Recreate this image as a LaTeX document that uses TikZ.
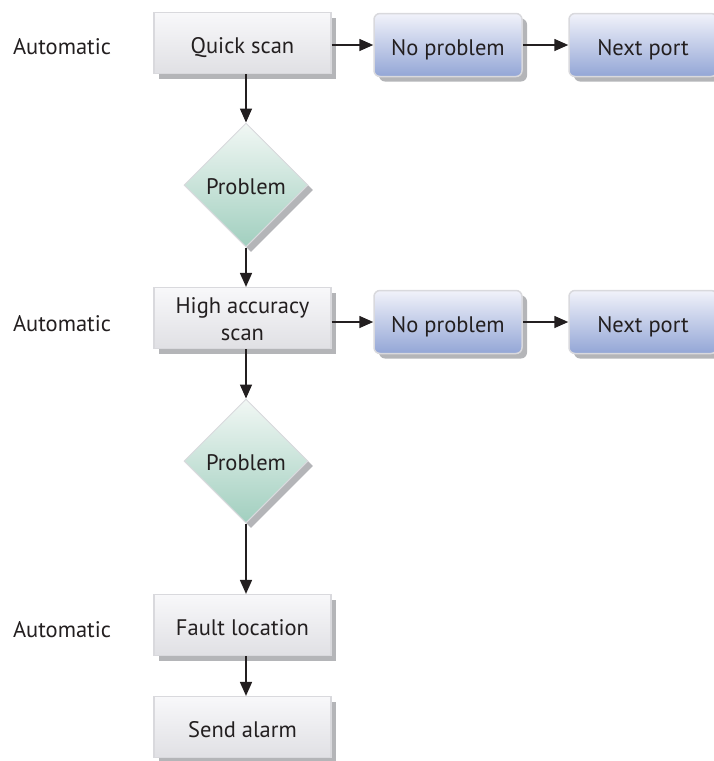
\documentclass[tikz,border=0pt]{standalone}
\usepackage{fontspec}
\setmainfont{PT Sans}
\usetikzlibrary{shapes.geometric,arrows.meta,shadows}
\definecolor{boxtop}{HTML}{F8F8FA}
\definecolor{boxbot}{HTML}{E0E0E4}
\definecolor{boxborder}{HTML}{D9D9DD}
\definecolor{bluetop}{HTML}{F1F2FA}
\definecolor{bluebot}{HTML}{93A6D6}
\definecolor{greentop}{HTML}{F1F7F4}
\definecolor{greenbot}{HTML}{A1CFBF}
\definecolor{shadowgray}{HTML}{B4B5B8}
\definecolor{txt}{HTML}{231F20}
\tikzset{
  myshadow/.style={drop shadow={shadow xshift=5pt, shadow yshift=-5pt, fill=shadowgray, opacity=1}},
  boxtext/.style={text=txt, font=\fontsize{22.5}{27}\selectfont, text height=21pt, text depth=1pt, inner sep=0pt},
  graybox/.style={rectangle, minimum width=177pt, minimum height=61pt, top color=boxtop, bottom color=boxbot, draw=boxborder, line width=1.2pt, myshadow, boxtext, align=center},
  twoline/.style={text height=45pt, text depth=1pt},
  bluebox/.style={rectangle, rounded corners=6pt, minimum width=148pt, minimum height=63pt, top color=bluetop, bottom color=bluebot, draw=boxborder, line width=1.5pt, myshadow, boxtext},
  decision/.style={diamond, aspect=1, minimum width=124pt, minimum height=124pt, top color=greentop, bottom color=greenbot, draw=boxborder, line width=1pt, myshadow, text=txt, font=\fontsize{22.5}{25}\selectfont, text height=19pt, text depth=0pt, inner sep=0pt},
  lbl/.style={text=txt, font=\fontsize{22.5}{25}\selectfont, inner sep=0pt},
  conn/.style={line width=1.6pt, -{Triangle[length=14pt, width=12pt]}, draw=txt}
}
\begin{document}
\begin{tikzpicture}[x=1pt, y=-1pt]
\useasboundingbox (0,0) rectangle (714,761);
\node[graybox] (qs) at (242.5,43) {Quick scan};
\node[bluebox] (np1) at (448,45) {No problem};
\node[bluebox] (nx1) at (643,45) {Next port};
\node[decision] (d1) at (246,185) {Problem};
\node[graybox, twoline] (ha) at (242.5,318) {High accuracy\\scan};
\node[bluebox] (np2) at (448,322) {No problem};
\node[bluebox] (nx2) at (643,322) {Next port};
\node[decision] (d2) at (246,461) {Problem};
\node[graybox] (fl) at (242.5,625) {Fault location};
\node[graybox] (sa) at (242.5,727) {Send alarm};
\node[lbl] (a1) at (62,47) {Automatic};
\node[lbl] (a2) at (62,324) {Automatic};
\node[lbl] (a3) at (62,630) {Automatic};
\draw[conn] (qs.east |- np1.west) -- (np1.west);
\draw[conn] (np1.east) -- (nx1.west);
\draw[conn] (ha.east |- np2.west) -- (np2.west);
\draw[conn] (np2.east) -- (nx2.west);
\draw[conn] (d1.north |- qs.south) -- (d1.north);
\draw[conn] (d1.south) -- (d1.south |- ha.north);
\draw[conn] (d2.north |- ha.south) -- (d2.north);
\draw[conn] (d2.south) -- (d2.south |- fl.north);
\draw[conn] (d2.south |- fl.south) -- (d2.south |- sa.north);
\end{tikzpicture}
\end{document}
